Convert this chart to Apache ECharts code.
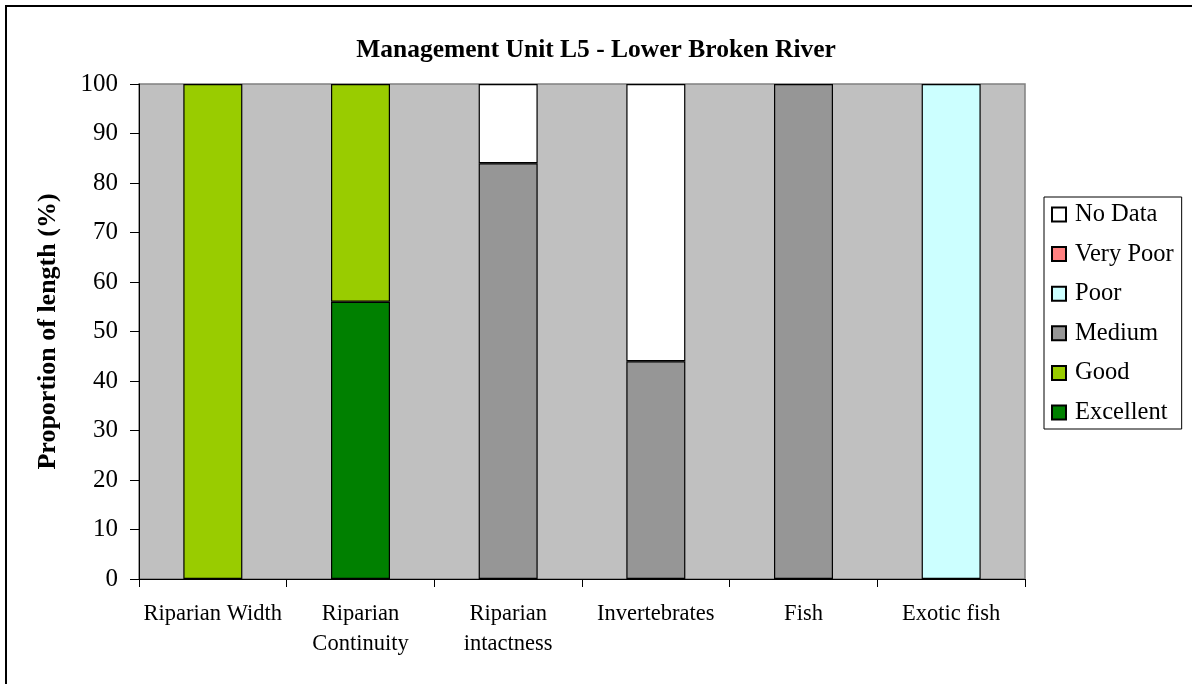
<!DOCTYPE html>
<html>
<head>
<meta charset="utf-8">
<title>Management Unit L5 - Lower Broken River</title>
<script src="https://cdn.jsdelivr.net/npm/echarts@6/dist/echarts.min.js"></script>
<style>
  html, body { margin: 0; padding: 0; background: #ffffff; }
  #chart { width: 1192px; height: 684px; }
</style>
</head>
<body>
<div id="chart"></div>
<script>
// Reach categories along the river
const categories = ['Riparian Width', 'Riparian\nContinuity', 'Riparian\nintactness', 'Invertebrates', 'Fish', 'Exotic fish'];

// Proportion of length (%) in each condition class, per category
const excellent = [null, 56, null, null, null, null];
const good      = [100, 44, null, null, null, null];
const medium    = [null, null, 84, 44, 100, null];
const poor      = [null, null, null, null, null, 100];
const veryPoor  = [null, null, null, null, null, null];
const noData    = [null, null, 16, 56, null, null];

// Y axis range
const yMin = 0, yMax = 100, yStep = 10;

const FONT = "'Liberation Serif', 'Times New Roman', serif";

const chart = echarts.init(document.getElementById('chart'), null, { renderer: 'canvas' });

function barSeries(name, data, color) {
  return {
    name: name,
    type: 'bar',
    stack: 'total',
    data: data,
    barWidth: 59,
    itemStyle: { color: color, borderColor: '#000000', borderWidth: 1.2 },
    emphasis: { disabled: true }
  };
}

chart.setOption({
  animation: false,
  backgroundColor: '#ffffff',
  textStyle: { fontFamily: FONT },
  title: {
    text: 'Management Unit L5 - Lower Broken River',
    left: 'center',
    top: 37,
    padding: 0,
    textStyle: { fontFamily: FONT, fontSize: 25.5, fontWeight: 'bold', color: '#000000' }
  },
  grid: {
    left: 139, right: 167, top: 84, bottom: 105,
    show: true,
    backgroundColor: '#C0C0C0',
    borderColor: '#808080',
    borderWidth: 1.5
  },
  legend: {
    orient: 'vertical',
    left: 1044,
    top: 197,
    padding: [5, 8, 4, 7],
    itemGap: 14.6,
    itemWidth: 14,
    itemHeight: 14,
    icon: 'rect',
    backgroundColor: '#ffffff',
    borderColor: '#000000',
    borderWidth: 1,
    selectedMode: false,
    data: ['No Data', 'Very Poor', 'Poor', 'Medium', 'Good', 'Excellent'],
    textStyle: { fontFamily: FONT, fontSize: 24.5, lineHeight: 24, color: '#000000', padding: [0, 0, 0, 4] }
  },
  xAxis: {
    type: 'category',
    data: categories,
    axisLine: { lineStyle: { color: '#000000', width: 1 } },
    axisTick: { show: true, alignWithLabel: false, length: 8, lineStyle: { color: '#000000' } },
    axisLabel: {
      interval: 0,
      margin: 20,
      fontFamily: FONT,
      fontSize: 22.5,
      lineHeight: 30,
      color: '#000000'
    },
    splitLine: { show: false }
  },
  yAxis: {
    type: 'value',
    min: yMin, max: yMax, interval: yStep,
    name: 'Proportion of length (%)',
    nameLocation: 'middle',
    nameRotate: 90,
    nameGap: 78,
    nameTextStyle: { fontFamily: FONT, fontSize: 26, fontWeight: 'bold', color: '#000000' },
    axisLine: { show: true, lineStyle: { color: '#000000', width: 1 } },
    axisTick: { show: true, length: 9, lineStyle: { color: '#000000' } },
    axisLabel: { margin: 21, fontFamily: FONT, fontSize: 25, color: '#000000' },
    splitLine: { show: false }
  },
  graphic: [{
    type: 'rect',
    silent: true,
    z: 100,
    shape: { x: 6, y: 6, width: 1300, height: 800 },
    style: { fill: 'none', stroke: '#000000', lineWidth: 2 }
  }],
  series: [
    barSeries('Excellent', excellent, '#008000'),
    barSeries('Good', good, '#99CC00'),
    barSeries('Medium', medium, '#969696'),
    barSeries('Poor', poor, '#CCFFFF'),
    barSeries('Very Poor', veryPoor, '#FF8080'),
    barSeries('No Data', noData, '#FFFFFF')
  ]
});
</script>
</body>
</html>
